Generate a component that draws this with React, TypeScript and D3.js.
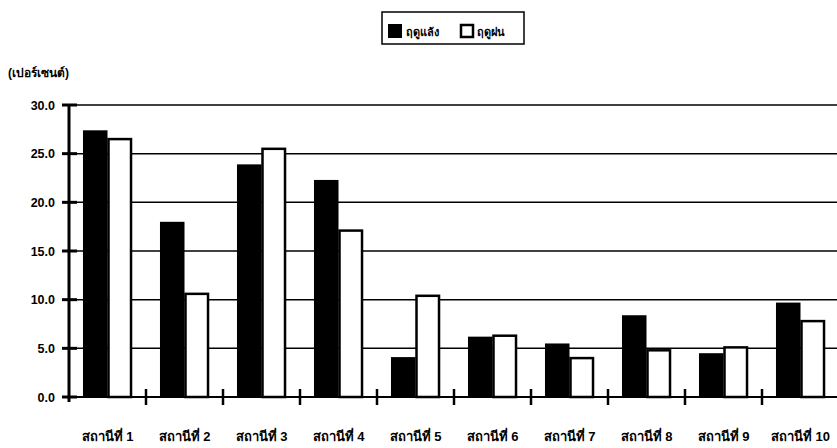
import React from "react";
import * as d3 from "d3";

const categories = [
  "สถานีที่ 1", "สถานีที่ 2", "สถานีที่ 3", "สถานีที่ 4", "สถานีที่ 5",
  "สถานีที่ 6", "สถานีที่ 7", "สถานีที่ 8", "สถานีที่ 9", "สถานีที่ 10",
];
const drySeason = [27.4, 18.0, 23.9, 22.3, 4.1, 6.2, 5.5, 8.4, 4.5, 9.7];
const rainySeason = [26.6, 10.7, 25.6, 17.2, 10.5, 6.4, 4.1, 4.9, 5.2, 7.9];
const yTicks = [0, 5, 10, 15, 20, 25, 30];
const seriesNames = ["ฤดูแล้ง", "ฤดูฝน"];

const W = 837;
const H = 448;
const left = 69;
const right = 839;
const top = 105;
const bottom = 397;

export default function App() {
  const x = d3.scaleBand<string>().domain(categories).range([left, right]).paddingInner(0).paddingOuter(0);
  const x1 = d3.scaleBand<string>().domain(["dry", "rainy"]).range([0, x.bandwidth()]).paddingOuter(0.57).paddingInner(0);
  const y = d3.scaleLinear().domain([0, 30]).range([bottom, top]);
  const font = "Arial, 'Liberation Sans', 'Noto Sans', sans-serif";

  return (
    <svg width={W} height={H} style={{ position: "absolute", left: 0, top: 0, background: "#fff" }}>
      {/* legend */}
      <rect x={382} y={12} width={142} height={32} fill="#fff" stroke="#000" strokeWidth={1.5} />
      <rect x={388} y={24} width={14} height={14} fill="#000" />
      <text x={406} y={36} fontFamily={font} fontSize={11} fontWeight="bold">{seriesNames[0]}</text>
      <rect x={461} y={25} width={12} height={12} fill="#fff" stroke="#000" strokeWidth={2.5} />
      <text x={477} y={36} fontFamily={font} fontSize={11} fontWeight="bold">{seriesNames[1]}</text>

      {/* y axis title */}
      <text x={8} y={77} fontFamily={font} fontSize={12} fontWeight="bold">(เปอร์เซนต์)</text>

      {/* gridlines */}
      {yTicks.filter((t) => t > 0).map((t) => (
        <line key={t} x1={left} x2={W} y1={y(t)} y2={y(t)} stroke="#000" strokeWidth={1.5} />
      ))}

      {/* bars */}
      {categories.map((c, i) => (
        <g key={c} transform={`translate(${x(c)},0)`}>
          <rect x={x1("dry")} y={y(drySeason[i])} width={x1.bandwidth()} height={bottom - y(drySeason[i])} fill="#000" />
          <rect x={(x1("rainy") as number) + 1} y={y(rainySeason[i]) + 1} width={x1.bandwidth() - 2} height={bottom - y(rainySeason[i]) - 1} fill="#fff" stroke="#000" strokeWidth={2.5} />
        </g>
      ))}

      {/* axes */}
      <line x1={left} x2={W} y1={bottom} y2={bottom} stroke="#000" strokeWidth={2} />
      <line x1={left} x2={left} y1={top} y2={bottom + 5} stroke="#000" strokeWidth={3} />
      {yTicks.map((t) => (
        <g key={t}>
          <line x1={62} x2={77} y1={y(t)} y2={y(t)} stroke="#000" strokeWidth={3} />
          <text x={55} y={y(t) + 4.5} textAnchor="end" fontFamily={font} fontSize={12.5} fontWeight="bold">{t.toFixed(1)}</text>
        </g>
      ))}
      {categories.slice(1).map((c) => (
        <line key={c} x1={x(c)} x2={x(c)} y1={bottom - 8} y2={bottom + 8} stroke="#000" strokeWidth={2.5} />
      ))}
      {categories.map((c) => (
        <text key={c} x={(x(c) as number) + x.bandwidth() / 2} y={441} textAnchor="middle" fontFamily={font} fontSize={13} fontWeight="bold">{c}</text>
      ))}
    </svg>
  );
}
